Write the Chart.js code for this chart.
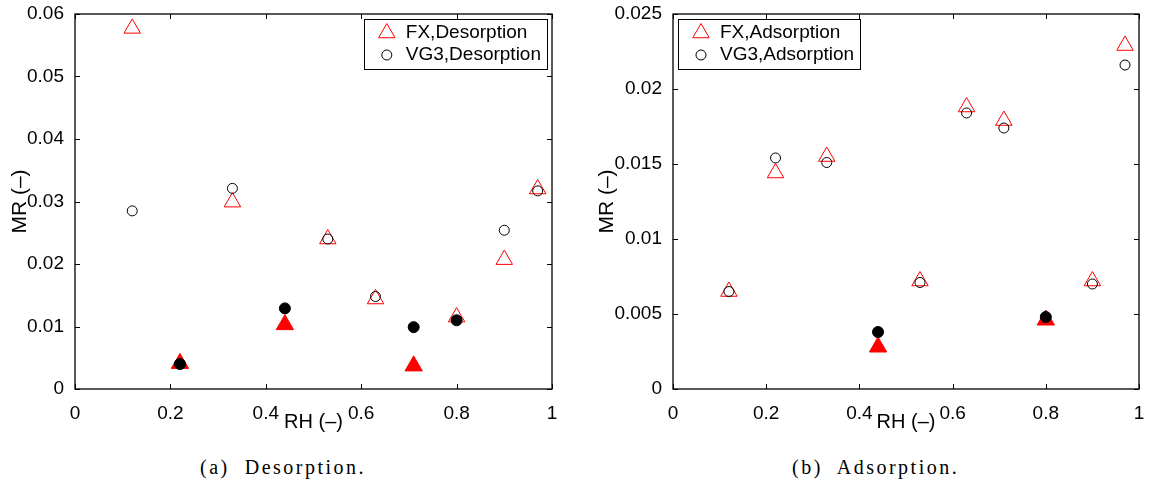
<!DOCTYPE html>
<html>
<head>
<meta charset="utf-8">
<script src="https://cdn.jsdelivr.net/npm/chart.js@4.4.0/dist/chart.umd.min.js"></script>
<style>
  body { margin: 0; background: #fff; width: 1150px; height: 486px; position: relative; overflow: hidden; }
  .box { position: absolute; top: 0; width: 575px; height: 434px; }
  .cap { position: absolute; top: 455px; font-family: "Liberation Serif", serif; font-size: 20px; line-height: 24px; letter-spacing: 2.5px; white-space: pre; color: #000; }
</style>
</head>
<body>
<div class="box" style="left:0"><canvas id="desorption" width="575" height="434"></canvas></div>
<div class="box" style="left:575px"><canvas id="adsorption" width="575" height="434"></canvas></div>
<div class="cap" style="left:200px">(a)  Desorption.</div>
<div class="cap" style="left:792px">(b)  Adsorption.</div>

<script>
// ---- data ----
const rhTicks = [0, 0.2, 0.4, 0.6, 0.8, 1];
const mrTicksDes = [0, 0.01, 0.02, 0.03, 0.04, 0.05, 0.06];
const mrTicksAds = [0, 0.005, 0.01, 0.015, 0.02, 0.025];

// desorption
const rhFxDesOpen = [0.12, 0.33, 0.53, 0.63, 0.80, 0.90, 0.97];
const mrFxDesOpen = [0.0577, 0.0299, 0.0240, 0.0144, 0.0115, 0.0207, 0.0320];
const rhFxDesFull = [0.22, 0.44, 0.71];
const mrFxDesFull = [0.0041, 0.0103, 0.0037];
const rhVgDesOpen = [0.12, 0.33, 0.53, 0.63, 0.90, 0.97];
const mrVgDesOpen = [0.0285, 0.0321, 0.0240, 0.0148, 0.0254, 0.0317];
const rhVgDesFull = [0.22, 0.44, 0.71, 0.80];
const mrVgDesFull = [0.0040, 0.0129, 0.0099, 0.0110];

// adsorption
const rhFxAdsOpen = [0.12, 0.22, 0.33, 0.53, 0.63, 0.71, 0.90, 0.97];
const mrFxAdsOpen = [0.0065, 0.0144, 0.0155, 0.0072, 0.0188, 0.0179, 0.0072, 0.0229];
const rhFxAdsFull = [0.44, 0.80];
const mrFxAdsFull = [0.0028, 0.0046];
const rhVgAdsOpen = [0.12, 0.22, 0.33, 0.53, 0.63, 0.71, 0.90, 0.97];
const mrVgAdsOpen = [0.0065, 0.0154, 0.0151, 0.0071, 0.0184, 0.0174, 0.0070, 0.0216];
const rhVgAdsFull = [0.44, 0.80];
const mrVgAdsFull = [0.0038, 0.0048];

Chart.defaults.font.family = "'Liberation Sans', Arial, sans-serif";
Chart.defaults.font.size = 19;
Chart.defaults.color = '#000';

function pts(xs, ys) {
    return xs.map((x, i) => ({ x: x, y: ys[i] }));
}

function series(label, xs, ys, shape, filled, color, legend) {
    const tri = shape === 'triangle';
    return {
        label: label,
        data: pts(xs, ys),
        pointStyle: shape,
        pointRadius: tri ? (filled ? 10 : 9.5) : (filled ? 5.5 : 5),
        pointBorderWidth: 1,
        borderColor: color,
        backgroundColor: filled ? color : 'rgba(0,0,0,0)',
        pointBackgroundColor: filled ? color : 'rgba(0,0,0,0)',
        order: tri ? 1 : 0,
        inLegend: legend
    };
}

// frame, inward ticks and boxed legend like the original figure
const framePlugin = {
    id: 'frame',
    afterDatasetsDraw(chart, args, opts) {
        const { ctx, chartArea: a, scales } = chart;
        const x = scales.x, y = scales.y;
        ctx.save();
        ctx.strokeStyle = '#000';
        ctx.lineWidth = 1.3;
        ctx.strokeRect(a.left, a.top, a.right - a.left, a.bottom - a.top);
        ctx.lineWidth = 1;
        ctx.beginPath();
        x.ticks.forEach(t => {
            const px = Math.round(x.getPixelForValue(t.value)) + 0.5;
            ctx.moveTo(px, a.bottom); ctx.lineTo(px, a.bottom - 5);
            ctx.moveTo(px, a.top); ctx.lineTo(px, a.top + 5);
        });
        y.ticks.forEach(t => {
            const py = Math.round(y.getPixelForValue(t.value)) + 0.5;
            ctx.moveTo(a.left, py); ctx.lineTo(a.left + 5, py);
            ctx.moveTo(a.right, py); ctx.lineTo(a.right - 5, py);
        });
        ctx.stroke();

        // legend
        const items = chart.data.datasets.filter(d => d.inLegend);
        ctx.font = "19px 'Liberation Sans', Arial, sans-serif";
        let tw = 0;
        items.forEach(d => { tw = Math.max(tw, ctx.measureText(d.label).width); });
        const bw = 42 + tw + 6, bh = 50;
        const bx = opts.side === 'right' ? a.right - 5 - bw : a.left + 5;
        const by = a.top + 5;
        ctx.fillStyle = '#fff';
        ctx.fillRect(bx, by, bw, bh);
        ctx.strokeStyle = '#000';
        ctx.lineWidth = 1;
        ctx.strokeRect(Math.round(bx) + 0.5, by + 0.5, Math.round(bw), bh);
        items.forEach((d, i) => {
            const cy = by + 14 + i * 22;
            const cx = bx + 23;
            ctx.beginPath();
            ctx.strokeStyle = d.borderColor;
            if (d.pointStyle === 'triangle') {
                const r = 9.5;
                ctx.moveTo(cx, cy - r);
                ctx.lineTo(cx + r * 0.866, cy + r / 2);
                ctx.lineTo(cx - r * 0.866, cy + r / 2);
                ctx.closePath();
            } else {
                ctx.arc(cx, cy, 5, 0, Math.PI * 2);
            }
            ctx.stroke();
            ctx.fillStyle = '#000';
            ctx.textBaseline = 'middle';
            ctx.textAlign = 'left';
            ctx.fillText(d.label, bx + 42, cy);
        });
        ctx.restore();
    }
};

function makeChart(id, datasets, yTicks, yMax, yAxisWidth, yTitlePad, padRight, legendSide) {
    return new Chart(document.getElementById(id), {
        type: 'scatter',
        data: { datasets: datasets },
        options: {
            responsive: false,
            animation: false,
            layout: { padding: { top: 14, right: padRight, left: 0, bottom: 0 } },
            plugins: {
                legend: { display: false },
                tooltip: { enabled: false },
                frame: { side: legendSide }
            },
            scales: {
                x: {
                    type: 'linear', min: 0, max: 1,
                    grid: { display: false },
                    border: { display: false },
                    afterBuildTicks: s => { s.ticks = rhTicks.map(v => ({ value: v })); },
                    afterFit: s => { s.height = 45; s.paddingLeft = 0; s.paddingRight = 0; },
                    ticks: { padding: 5, maxRotation: 0, callback: v => String(v) },
                    title: { display: true, text: 'RH (–)', font: { size: 20 }, padding: { top: 0, bottom: 0 } }
                },
                y: {
                    type: 'linear', min: 0, max: yMax,
                    grid: { display: false },
                    border: { display: false },
                    afterBuildTicks: s => { s.ticks = yTicks.map(v => ({ value: v })); },
                    afterFit: s => { s.width = yAxisWidth; s.paddingTop = 0; s.paddingBottom = 0; },
                    ticks: { padding: 3, callback: v => String(v) },
                    title: { display: true, text: 'MR (–)', font: { size: 21 }, padding: { top: yTitlePad, bottom: 0 } }
                }
            }
        },
        plugins: [framePlugin]
    });
}

makeChart('desorption', [
    series('FX,Desorption', rhFxDesOpen, mrFxDesOpen, 'triangle', false, '#ff0000', true),
    series('FX,Desorption', rhFxDesFull, mrFxDesFull, 'triangle', true, '#ff0000', false),
    series('VG3,Desorption', rhVgDesOpen, mrVgDesOpen, 'circle', false, '#000000', true),
    series('VG3,Desorption', rhVgDesFull, mrVgDesFull, 'circle', true, '#000000', false)
], mrTicksDes, 0.06, 75, 7.5, 23, 'right');

makeChart('adsorption', [
    series('FX,Adsorption', rhFxAdsOpen, mrFxAdsOpen, 'triangle', false, '#ff0000', true),
    series('FX,Adsorption', rhFxAdsFull, mrFxAdsFull, 'triangle', true, '#ff0000', false),
    series('VG3,Adsorption', rhVgAdsOpen, mrVgAdsOpen, 'circle', false, '#000000', true),
    series('VG3,Adsorption', rhVgAdsFull, mrVgAdsFull, 'circle', true, '#000000', false)
], mrTicksAds, 0.025, 98, 19.5, 2, 'left');
</script>
</body>
</html>
